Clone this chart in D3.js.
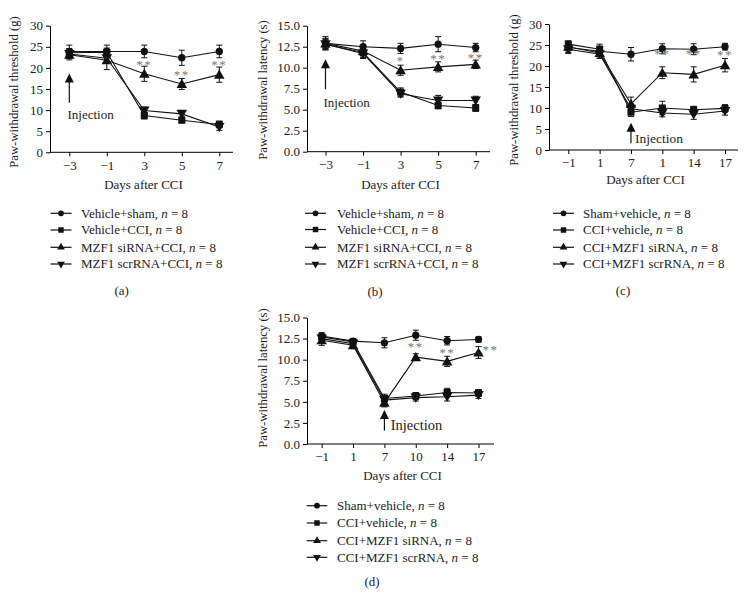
<!DOCTYPE html>
<html>
<head>
<meta charset="utf-8">
<script src="https://cdn.jsdelivr.net/npm/d3@7"></script>
<style>
  html, body { margin: 0; padding: 0; background: #fff; }
  svg { display: block; }
</style>
</head>
<body>
<svg id="chart" width="750" height="610"></svg>
<script>
// ---------------- DATA ----------------
const daysAB = ["\u22123", "\u22121", "3", "5", "7"];
const daysC  = ["\u22121", "1", "7", "1", "14", "17"];
const daysD  = ["\u22121", "1", "7", "10", "14", "17"];

const groupsAB = ["Vehicle+sham", "Vehicle+CCI", "MZF1 siRNA+CCI", "MZF1 scrRNA+CCI"];
const groupsCD = ["Sham+vehicle", "CCI+vehicle", "CCI+MZF1 siRNA", "CCI+MZF1 scrRNA"];
const groupN = [8, 8, 8, 8];

// Panel (a) paw-withdrawal threshold (g)
const aSham    = [23.9, 23.9, 23.9, 22.4, 23.9];
const aShamErr = [1.5, 1.5, 1.5, 1.8, 1.5];
const aCci     = [23.6, 23.7, 8.7, 7.6, 6.6];
const aCciErr  = [1.0, 1.0, 0.8, 0.6, 0.8];
const aSi      = [23.1, 21.8, 18.6, 16.2, 18.4];
const aSiErr   = [1.2, 2.2, 1.8, 1.3, 1.8];
const aScr     = [23.3, 22.3, 9.9, 9.1, 6.0];
const aScrErr  = [1.0, 1.0, 0.8, 0.7, 0.8];

// Panel (b) paw-withdrawal latency (s)
const bSham    = [12.9, 12.5, 12.3, 12.8, 12.4];
const bShamErr = [0.8, 0.7, 0.6, 0.9, 0.5];
const bCci     = [12.8, 11.8, 7.1, 5.5, 5.2];
const bCciErr  = [0.6, 0.6, 0.5, 0.4, 0.4];
const bSi      = [12.9, 12.0, 9.7, 10.1, 10.4];
const bSiErr   = [0.6, 0.6, 0.6, 0.6, 0.5];
const bScr     = [12.8, 11.7, 6.9, 6.1, 6.1];
const bScrErr  = [0.6, 0.6, 0.4, 0.6, 0.5];

// Panel (c) paw-withdrawal threshold (g)
const cSham    = [24.4, 23.5, 22.8, 24.1, 24.0, 24.6];
const cShamErr = [1.2, 1.2, 1.6, 1.2, 1.3, 0.8];
const cCci     = [25.2, 24.0, 9.0, 10.0, 9.6, 9.9];
const cCciErr  = [0.8, 1.2, 1.0, 1.6, 0.8, 0.9];
const cSi      = [24.6, 23.1, 11.0, 18.4, 18.0, 20.2];
const cSiErr   = [1.0, 1.2, 1.6, 1.4, 1.8, 1.6];
const cScr     = [24.0, 22.8, 9.8, 8.8, 8.5, 9.3];
const cScrErr  = [1.0, 1.0, 1.0, 0.9, 1.2, 1.0];

// Panel (d) paw-withdrawal latency (s)
const dSham    = [12.8, 12.2, 12.0, 12.9, 12.25, 12.4];
const dShamErr = [0.4, 0.3, 0.6, 0.6, 0.5, 0.3];
const dCci     = [12.7, 12.1, 5.4, 5.7, 6.1, 6.05];
const dCciErr  = [0.3, 0.3, 0.5, 0.4, 0.5, 0.4];
const dSi      = [12.3, 11.7, 4.9, 10.3, 9.8, 10.85];
const dSiErr   = [0.6, 0.4, 0.5, 0.4, 0.6, 0.7];
const dScr     = [12.5, 11.9, 5.2, 5.5, 5.6, 5.8];
const dScrErr  = [0.4, 0.3, 0.4, 0.4, 0.5, 0.4];

// Y tick values
const yTicksG = [0, 5, 10, 15, 20, 25, 30];
const yTicksS = [0, 2.5, 5, 7.5, 10, 12.5, 15];

// Significance marks: [day index, label, value]
const aStars = [[2, "**", 21.2], [3, "**", 18.9], [4, "**", 21.2]];
const bStars = [[2, "*", 11.1], [3, "**", 11.3], [4, "**", 11.5]];
const cStars = [[3, "**", 23.4], [4, "**", 23.4], [5, "**", 23.2]];
const dStars = [[3, "**", 11.75], [4, "**", 11.05], [5, "**", 11.5]];

// Injection arrows: [day index, arrow top value, arrow bottom value]
const aInject = [0, 18.7, 11.75];
const bInject = [0, 11.0, 7.43];
const cInject = [2, 6.5, 1.6];
const dInject = [2, 4.03, 1.58];

// ---------------- DRAWING ----------------
const FONT = "'Liberation Serif','Times New Roman',Times,serif";
const svg = d3.select("#chart");
const symbols = [
  { type: d3.symbolCircle, size: 42, rot: 0 },
  { type: d3.symbolSquare, size: 50, rot: 0 },
  { type: d3.symbolTriangle, size: 48, rot: 0 },
  { type: d3.symbolTriangle, size: 48, rot: 180 }
];
const legSymbols = [
  { type: d3.symbolCircle, size: 26, rot: 0 },
  { type: d3.symbolSquare, size: 30, rot: 0 },
  { type: d3.symbolTriangle, size: 26, rot: 0 },
  { type: d3.symbolTriangle, size: 26, rot: 180 }
];

function drawPanel(cfg) {
  const g = svg.append("g");
  const x = d3.scalePoint().domain(d3.range(cfg.days.length)).range([cfg.xFirst, cfg.xLast]);
  const y = d3.scaleLinear().domain([0, cfg.yMax]).range([cfg.y0, cfg.yTop]);

  // axes
  const yAxis = d3.axisLeft(y).tickValues(cfg.yTicks).tickSize(4).tickSizeOuter(0).tickPadding(3)
    .tickFormat(cfg.yFmt);
  const ya = g.append("g").attr("transform", `translate(${cfg.left},0)`).call(yAxis);
  const xAxis = d3.axisBottom(x).tickSize(4).tickSizeOuter(0).tickPadding(4)
    .tickFormat(i => cfg.days[i]);
  const xa = g.append("g").attr("transform", `translate(0,${cfg.y0})`).call(xAxis);
  xa.select(".domain").remove();
  xa.append("line").attr("x1", cfg.left).attr("x2", cfg.right).attr("y1", 0).attr("y2", 0)
    .attr("stroke", "#000").attr("stroke-width", 1);
  [ya, xa].forEach(a => {
    a.selectAll("text").attr("font-family", FONT).attr("font-size", 13).attr("fill", "#222");
    a.selectAll(".tick line, .domain").attr("stroke", "#000");
  });

  // axis titles
  g.append("text").attr("x", (cfg.left + cfg.right) / 2 + 2).attr("y", cfg.xTitleY)
    .attr("text-anchor", "middle").attr("font-family", FONT).attr("font-size", 13)
    .attr("fill", "#222").text("Days after CCI");
  g.append("text").attr("transform", `translate(${cfg.yTitleX},${cfg.yTitleCY}) rotate(-90)`)
    .attr("text-anchor", "middle").attr("dy", "0.35em").attr("font-family", FONT)
    .attr("font-size", 12.7).attr("fill", "#222").text(cfg.yTitle);

  // series
  const line = d3.line().x((d, i) => x(i)).y(d => y(d));
  cfg.series.forEach((s, si) => {
    const sg = g.append("g");
    s.v.forEach((v, i) => {
      const cx = x(i), e = s.e[i];
      sg.append("line").attr("x1", cx).attr("x2", cx).attr("y1", y(v - e)).attr("y2", y(v + e))
        .attr("stroke", "#111").attr("stroke-width", 1);
      [v - e, v + e].forEach(t => {
        sg.append("line").attr("x1", cx - 3).attr("x2", cx + 3).attr("y1", y(t)).attr("y2", y(t))
          .attr("stroke", "#111").attr("stroke-width", 1);
      });
    });
    sg.append("path").attr("d", line(s.v)).attr("fill", "none").attr("stroke", "#111")
      .attr("stroke-width", 1.1);
  });
  cfg.series.forEach((s, si) => {
    const sym = symbols[si];
    g.append("g").selectAll("path").data(s.v).join("path")
      .attr("d", d3.symbol().type(sym.type).size(sym.size)())
      .attr("transform", (d, i) => `translate(${x(i)},${y(d) + (si >= 2 ? (sym.rot ? -1 : 1) : 0)}) rotate(${sym.rot})`)
      .attr("fill", "#111");
  });

  // stars
  cfg.stars.forEach(([i, lab, v], k) => {
    const dx = (cfg.starDx && cfg.starDx[k]) || 0;
    g.append("text").attr("x", x(i) + dx).attr("y", y(v) + 6.5)
      .attr("text-anchor", "middle").attr("font-family", FONT).attr("font-size", 13)
      .attr("letter-spacing", 1.5).attr("fill", "#777").text(lab);
  });

  // injection arrow
  const [ii, top, bot] = cfg.inject;
  const ax = x(ii), ayTop = y(top), ayBot = y(bot);
  g.append("line").attr("x1", ax).attr("x2", ax).attr("y1", ayTop + 6).attr("y2", ayBot)
    .attr("stroke", "#111").attr("stroke-width", 1.2);
  g.append("path").attr("d", `M${ax},${ayTop} L${ax - 4.5},${ayTop + 9} L${ax + 4.5},${ayTop + 9} Z`)
    .attr("fill", "#111");
  g.append("text").attr("x", cfg.injTextX).attr("y", cfg.injTextY).attr("font-family", FONT)
    .attr("font-size", cfg.injFont).attr("fill", "#222").text("Injection");

  // legend
  cfg.groups.forEach((name, k) => {
    const ly = cfg.legY[k];
    g.append("line").attr("x1", cfg.legX1).attr("x2", cfg.legX2).attr("y1", ly).attr("y2", ly)
      .attr("stroke", "#111").attr("stroke-width", 1.2);
    const sym = legSymbols[k];
    g.append("path").attr("d", d3.symbol().type(sym.type).size(sym.size)())
      .attr("transform", `translate(${(cfg.legX1 + cfg.legX2) / 2},${ly}) rotate(${sym.rot})`)
      .attr("fill", "#111");
    const t = g.append("text").attr("x", cfg.legTextX).attr("y", ly).attr("dy", "0.33em")
      .attr("font-family", FONT).attr("font-size", 13).attr("fill", "#222");
    t.append("tspan").text(name + ", ");
    t.append("tspan").attr("font-style", "italic").text("n");
    t.append("tspan").text(" = " + groupN[k]);
  });

  // caption
  g.append("text").attr("x", cfg.capX).attr("y", cfg.capY).attr("text-anchor", "middle")
    .attr("font-family", FONT).attr("font-size", 13).attr("fill", "#222").text(cfg.cap);
}

const fmtInt = d3.format("d");
const fmt1 = d3.format(".1f");

drawPanel({
  days: daysAB, left: 50, right: 233, xFirst: 69.3, xLast: 219.3, y0: 152.3, yTop: 25.7, yMax: 30,
  yTicks: yTicksG, yFmt: fmtInt, yTitle: "Paw-withdrawal threshold (g)", yTitleX: 14, yTitleCY: 92,
  xTitleY: 189,
  series: [{ v: aSham, e: aShamErr }, { v: aCci, e: aCciErr }, { v: aSi, e: aSiErr }, { v: aScr, e: aScrErr }],
  stars: aStars, inject: aInject, injTextX: 67.5, injTextY: 118.5, injFont: 13,
  groups: groupsAB, legX1: 50.5, legX2: 71.5, legTextX: 81, legY: [213.3, 230, 247.3, 264],
  cap: "(a)", capX: 121.7, capY: 295
});

drawPanel({
  days: daysAB, left: 307, right: 490, xFirst: 325.5, xLast: 475.7, y0: 151.7, yTop: 25.7, yMax: 15,
  yTicks: yTicksS, yFmt: fmt1, yTitle: "Paw-withdrawal latency (s)", yTitleX: 263, yTitleCY: 90,
  xTitleY: 189,
  series: [{ v: bSham, e: bShamErr }, { v: bCci, e: bCciErr }, { v: bSi, e: bSiErr }, { v: bScr, e: bScrErr }],
  stars: bStars, inject: bInject, injTextX: 323.5, injTextY: 107, injFont: 13,
  groups: groupsAB, legX1: 305, legX2: 326, legTextX: 337, legY: [213.3, 229.5, 247.3, 264],
  cap: "(b)", capX: 375, capY: 296
});

drawPanel({
  days: daysC, left: 549, right: 738, xFirst: 568.3, xLast: 725, y0: 150, yTop: 24, yMax: 30,
  yTicks: yTicksG, yFmt: fmtInt, yTitle: "Paw-withdrawal threshold (g)", yTitleX: 514, yTitleCY: 90,
  xTitleY: 184,
  series: [{ v: cSham, e: cShamErr }, { v: cCci, e: cCciErr }, { v: cSi, e: cSiErr }, { v: cScr, e: cScrErr }],
  stars: cStars, inject: cInject, injTextX: 635, injTextY: 143, injFont: 13.5,
  groups: groupsCD, legX1: 553, legX2: 574, legTextX: 583, legY: [213.3, 230, 247.3, 264],
  cap: "(c)", capX: 623, capY: 295
});

drawPanel({
  days: daysD, left: 307, right: 494, xFirst: 321.7, xLast: 478.5, y0: 444, yTop: 317.5, yMax: 15,
  yTicks: yTicksS, yFmt: fmt1, yTitle: "Paw-withdrawal latency (s)", yTitleX: 263, yTitleCY: 378,
  xTitleY: 480,
  series: [{ v: dSham, e: dShamErr }, { v: dCci, e: dCciErr }, { v: dSi, e: dSiErr }, { v: dScr, e: dScrErr }],
  stars: dStars, starDx: [0, 0, 12], inject: dInject, injTextX: 390.7, injTextY: 429.5, injFont: 14.5,
  groups: groupsCD, legX1: 306.7, legX2: 327.3, legTextX: 337, legY: [505.7, 523, 540.7, 557.3],
  cap: "(d)", capX: 372, capY: 586
});
</script>
</body>
</html>
